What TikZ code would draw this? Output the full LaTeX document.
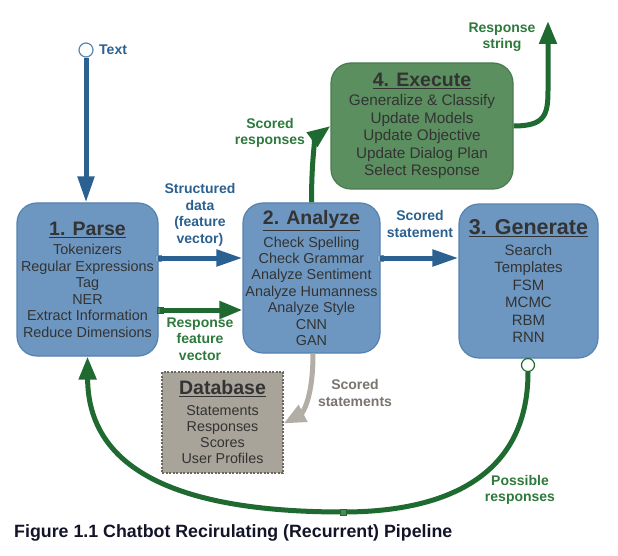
\documentclass[tikz,border=0pt]{standalone}
\usepackage{fontspec}
\setmainfont{Liberation Sans}
\usetikzlibrary{arrows.meta}
\definecolor{boxblue}{HTML}{6D97C1}
\definecolor{boxblueborder}{HTML}{5582B0}
\definecolor{arrblue}{HTML}{2B6190}
\definecolor{circblue}{HTML}{5A86B0}
\definecolor{arrgreen}{HTML}{1F6A30}
\definecolor{lblgreen}{HTML}{2E7A3C}
\definecolor{exgreen}{HTML}{5B8F5F}
\definecolor{exborder}{HTML}{4B7B50}
\definecolor{dbfill}{HTML}{A9A49A}
\definecolor{dbborder}{HTML}{6B665E}
\definecolor{arrgray}{HTML}{B3AEA5}
\definecolor{lblgray}{HTML}{7A756D}
\definecolor{boxtext}{HTML}{333333}
\definecolor{captext}{HTML}{141428}
\begin{document}
\begin{tikzpicture}[x=1pt,y=-1pt,
  stagebox/.style={draw=boxblueborder, line width=1.2pt, fill=boxblue, rounded corners=20pt, text=boxtext, align=center, inner sep=0pt},
  execbox/.style={draw=exborder, line width=1.2pt, fill=exgreen, rounded corners=20pt, text=boxtext, align=center, inner sep=0pt},
  dbbox/.style={draw=dbborder, line width=1.3pt, dash pattern=on 2pt off 1.5pt, fill=dbfill, text=boxtext, align=center, inner sep=0pt},
  lbl/.style={font=\fontsize{14}{16.5}\selectfont\bfseries, align=center, inner sep=0pt},
  blarrow/.style={draw=arrblue, line width=5pt, -{Triangle[length=26pt,width=16pt]}},
  grarrow/.style={draw=arrgreen, line width=5pt, -{Triangle[length=23pt,width=17pt]}},
  gyarrow/.style={draw=arrgray, line width=5pt, -{Triangle[length=22pt,width=18pt]}},
  bsq/.style={draw=arrblue!70, fill=boxblue!80, line width=0.8pt, minimum size=6pt, inner sep=0pt},
  gsq/.style={draw=arrgreen, fill=arrgreen!80, line width=0.8pt, minimum size=6pt, inner sep=0pt},
  portcirc/.style={circle, fill=white, line width=1.2pt, minimum size=14pt, inner sep=0pt}
]
\useasboundingbox (0,0) rectangle (618,556);
\fill[white] (0,0) rectangle (618,556);

% boxes
\node[stagebox, minimum width=141pt, minimum height=153pt, font=\fontsize{14.4}{16.5}\selectfont] (parse) at (87.5,279.5)
 {{\fontsize{19.5}{19.5}\selectfont\bfseries\underline{1. Parse}}\\[3pt]
  Tokenizers\\Regular Expressions\\Tag\\NER\\Extract Information\\Reduce Dimensions};
\node[stagebox, minimum width=137pt, minimum height=150pt, font=\fontsize{14.4}{16.4}\selectfont] (analyze) at (311.5,278)
 {{\fontsize{19.5}{19.5}\selectfont\bfseries\underline{2. Analyze}}\\[5pt]
  Check Spelling\\Check Grammar\\Analyze Sentiment\\Analyze Humanness\\Analyze Style\\CNN\\GAN};
\node[stagebox, minimum width=139pt, minimum height=154pt, font=\fontsize{15}{17.5}\selectfont] (generate) at (528.5,281)
 {{\fontsize{21.5}{21.5}\selectfont\bfseries\underline{3. Generate}}\\[3pt]
  Search\\Templates\\FSM\\MCMC\\RBM\\RNN};
\node[execbox, minimum width=182pt, minimum height=126pt, font=\fontsize{15.3}{17.5}\selectfont] (execute) at (422,126)
 {{\fontsize{19.5}{19.5}\selectfont\bfseries\underline{4. Execute}}\\[2pt]
  Generalize \& Classify\\Update Models\\Update Objective\\Update Dialog Plan\\Select Response};
\node[dbbox, minimum width=121pt, minimum height=101pt, font=\fontsize{14.3}{16}\selectfont] (database) at (222.5,422.5)
 {{\fontsize{19.5}{19.5}\selectfont\bfseries\underline{Database}}\\[5pt]
  Statements\\Responses\\Scores\\User Profiles};

% ports
\node[portcirc, draw=circblue] (textin) at (86,50) {};
\node[portcirc, draw=arrgreen, minimum size=13pt] (genout) at (528,365) {};
\node[bsq] (sqa) at (158,258) {};
\node[gsq] (sqb) at (160,310) {};
\node[bsq] (sqc) at (380,258) {};
\node[gsq] (loopmid) at (343,512) {};
\coordinate (rsend) at (548,21);

% connectors
\draw[blarrow] (textin.south) -- (textin.south |- parse.north);
\draw[blarrow] (sqa.center) -- (sqa.center -| analyze.west);
\draw[grarrow] (sqb.center) -- (sqb.center -| analyze.west);
\draw[blarrow] (sqc.center) -- (sqc.center -| generate.west);
\draw[grarrow] (analyze.north) .. controls (311.5,150) and (317,136) .. (execute.west);
\draw[grarrow] (execute.east) .. controls (545,126) and (548,115) .. (548,90) -- (rsend);
\draw[gyarrow] ([xshift=1.5pt]analyze.south) .. controls (313,408) and (298,416) .. ([yshift=-1pt]database.east);
\draw[grarrow] (genout.south) .. controls (528,480) and (440,512) .. (loopmid.center)
  .. controls (160,512) and (88,460) .. (parse.south);
\node[gsq] at (loopmid) {};

% labels
\node[lbl, anchor=west, text=arrblue] (ltext) at (99,50) {Text};
\node[lbl, text=arrblue] (lsd) at (200,215) {Structured\\data\\(feature\\vector)};
\node[lbl, text=lblgreen] (lrfv) at (200,339) {Response\\feature\\vector};
\node[lbl, text=arrblue] (lss) at (420,224) {Scored\\statement};
\node[lbl, text=lblgreen] (lsr) at (270,133) {Scored\\responses};
\node[lbl, text=lblgreen] (lrs) at (502,37) {Response\\string};
\node[lbl, text=lblgray] (lsst) at (355,393) {Scored\\statements};
\node[lbl, text=lblgreen] (lpr) at (520,490) {Possible\\responses};
\node[anchor=west, inner sep=0pt, text=captext, font=\fontsize{17.8}{20}\selectfont\bfseries] (caption) at (14,533)
 {Figure 1.1 Chatbot Recirulating (Recurrent) Pipeline};
\end{tikzpicture}
\end{document}
